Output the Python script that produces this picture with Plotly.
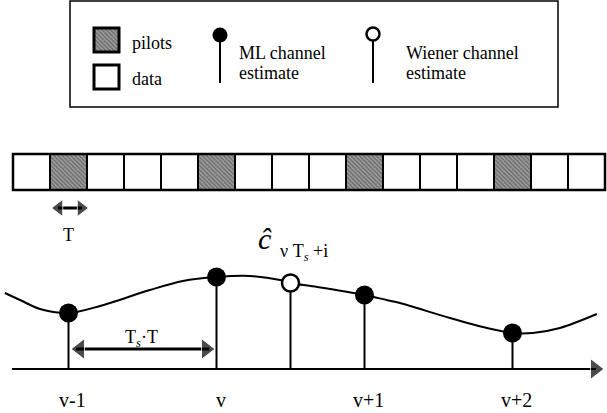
import plotly.graph_objects as go

# ---------------- data ----------------
slot_index = list(range(16))          # symbol slots in the frame
pilot_slots = [1, 5, 9, 13]           # pilot positions (T_s = 4)
sample_labels = ["v-1", "v", "v+1", "v+2"]
ml_time = [1.5, 5.5, 9.5, 13.5]       # in units of T
ml_value = [0.56, 0.92, 0.74, 0.36]   # ML channel estimates
wiener_time = [7.5]
wiener_value = [0.86]                 # Wiener channel estimate
curve_time = [-0.22, 0.19, 0.73, 1.5, 2.35, 3.7, 4.59, 5.5, 6.41, 7.22, 7.5,
              8.22, 9.5, 10.1, 10.46, 11.81, 12.81, 13.5, 14.05, 14.78, 15.78]
curve_value = [0.76, 0.69, 0.60, 0.56, 0.63, 0.79, 0.88, 0.92, 0.93, 0.89, 0.86,
               0.82, 0.74, 0.69, 0.66, 0.51, 0.41, 0.36, 0.36, 0.41, 0.55]

# ---------------- layout helpers ----------------
W, H = 607, 413
X0_PX, PX_PER_T, BASE_PX, PX_PER_AMP = 13, 37, 369, 100
FONT = "Liberation Serif, Times New Roman, serif"


def dx(px):
    return (px - X0_PX) / PX_PER_T


def dy(py):
    return (BASE_PX - py) / PX_PER_AMP


def px_paper(px):
    return px / W


def py_paper(py):
    return 1 - py / H


HATCH = dict(color="#8a8a8a",
             pattern=dict(shape="\\", fgcolor="#3a3a3a", bgcolor="#a0a0a0",
                          size=3, solidity=0.5),
             line=dict(color="black", width=2))

fig = go.Figure()

# frame of slots
cell_h = dy(154) - dy(190)
fig.add_trace(go.Bar(
    x=[i + 0.5 for i in slot_index], y=[cell_h] * len(slot_index),
    base=dy(190), width=1, textposition="none",
    marker=dict(color="white", line=dict(color="black", width=2)),
    hoverinfo="skip"))
fig.add_trace(go.Bar(
    x=[p + 0.5 for p in pilot_slots], y=[cell_h] * len(pilot_slots),
    base=dy(190), width=1, textposition="none", marker=HATCH, hoverinfo="skip"))
# outer frame border
fig.add_shape(type="rect", x0=slot_index[0], x1=slot_index[-1] + 1, y0=dy(190), y1=dy(154),
              line=dict(color="black", width=2.5), fillcolor="rgba(0,0,0,0)")

# legend squares
sq_w = 25 / PX_PER_T
leg_hatch = dict(HATCH, line=dict(color="black", width=3))
fig.add_trace(go.Bar(
    x=[dx(106.5)], y=[dy(28) - dy(52)], base=dy(52), width=sq_w, textposition="none",
    marker=leg_hatch, hoverinfo="skip"))
fig.add_trace(go.Bar(
    x=[dx(106.5)], y=[dy(65) - dy(89)], base=dy(89), width=sq_w, textposition="none",
    marker=dict(color="white", line=dict(color="black", width=3)),
    hoverinfo="skip"))

# channel curve
fig.add_trace(go.Scatter(x=curve_time, y=curve_value, mode="lines",
                         line=dict(color="black", width=2, shape="spline", smoothing=0.9),
                         hoverinfo="skip"))

# stems
sx, sy = [], []
for t, v in zip(ml_time + wiener_time, ml_value + wiener_value):
    sx += [t, t, None]
    sy += [0, v, None]
# legend stems
for lx in (220, 373):
    sx += [dx(lx), dx(lx), None]
    sy += [dy(83), dy(35), None]
fig.add_trace(go.Scatter(x=sx, y=sy, mode="lines",
                         line=dict(color="black", width=2), hoverinfo="skip"))

# time axis line
fig.add_trace(go.Scatter(x=[dx(12), dx(596)], y=[0, 0], mode="lines",
                         line=dict(color="black", width=2), hoverinfo="skip"))
# T_s*T arrow line and T arrow line
fig.add_trace(go.Scatter(x=[ml_time[0] + 0.2, ml_time[1] - 0.2, None, dx(58), dx(82)],
                         y=[dy(349), dy(349), None, dy(208), dy(208)], mode="lines",
                         line=dict(color="black", width=3), hoverinfo="skip"))
# arrow heads
fig.add_trace(go.Scatter(
    x=[dx(595), dx(80), dx(206), dx(59), dx(81)],
    y=[0, dy(349), dy(349), dy(208), dy(208)],
    mode="markers", hoverinfo="skip",
    marker=dict(symbol=["triangle-right", "triangle-left", "triangle-right",
                        "triangle-left", "triangle-right"],
                size=[18, 18, 18, 15, 15], color="black")))

# ML dots
fig.add_trace(go.Scatter(x=ml_time, y=ml_value, mode="markers",
                         marker=dict(size=19, color="black"), hoverinfo="skip"))
# Wiener open circle
fig.add_trace(go.Scatter(x=wiener_time, y=wiener_value, mode="markers",
                         marker=dict(size=17, color="white",
                                     line=dict(color="black", width=2.5)),
                         hoverinfo="skip"))
# legend markers
fig.add_trace(go.Scatter(x=[dx(220)], y=[dy(35)], mode="markers",
                         marker=dict(size=15, color="black"), hoverinfo="skip"))
fig.add_trace(go.Scatter(x=[dx(373)], y=[dy(34)], mode="markers",
                         marker=dict(size=13, color="white",
                                     line=dict(color="black", width=2.5)),
                         hoverinfo="skip"))

annotations = []


def text(t, px, py, size=18, xanchor="center"):
    annotations.append(dict(text=t, x=px_paper(px), y=py_paper(py), xref="paper", yref="paper",
                            xanchor=xanchor, yanchor="middle", showarrow=False,
                            font=dict(family=FONT, size=size, color="black")))


# legend texts
text("pilots", 130, 43, xanchor="left")
text("data", 130, 79, xanchor="left")
text("ML channel", 237, 53, xanchor="left")
text("estimate", 237, 73, xanchor="left")
text("Wiener channel", 404, 53, xanchor="left")
text("estimate", 404, 73, xanchor="left")

# T label and T_s*T label
text("T", 68, 235)
text("T<sub><i>s</i></sub>·T", 141, 338)

# c-hat label
text("<i>ĉ</i>", 265, 238, size=30)
text("ν T<sub><i>s</i></sub> +i", 278, 253, size=18, xanchor="left")

# sample labels
for lab, t in zip(sample_labels, ml_time):
    annotations.append(dict(text=lab, x=t, y=dy(400), xref="x", yref="y",
                            xanchor="center", yanchor="middle", xshift=4, showarrow=False,
                            font=dict(family=FONT, size=20, color="black")))

fig.add_shape(type="rect", xref="paper", yref="paper",
              x0=px_paper(70), x1=px_paper(558), y0=py_paper(107), y1=py_paper(1),
              line=dict(color="black", width=1.5), fillcolor="rgba(0,0,0,0)", layer="below")

fig.update_layout(
    width=W, height=H, margin=dict(l=0, r=0, t=0, b=0),
    paper_bgcolor="white", plot_bgcolor="white", showlegend=False,
    barmode="overlay",
    xaxis=dict(range=[dx(0), dx(W)], visible=False, fixedrange=True),
    yaxis=dict(range=[dy(H), dy(0)], visible=False, fixedrange=True),
    annotations=annotations,
)

fig.write_html("out.html", config={"displayModeBar": False})
